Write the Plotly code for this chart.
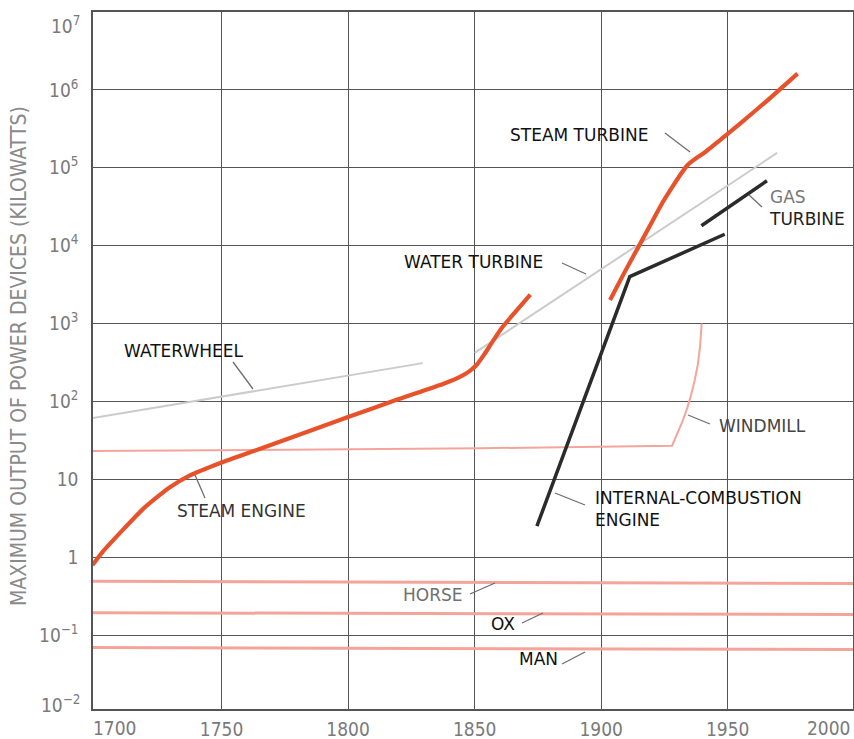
import plotly.graph_objects as go

# ---------------- data: year vs. maximum output (kilowatts) ----------------
steam_engine_year = [1699, 1703, 1711, 1719, 1724.5, 1729.6, 1737.5, 1749.5, 1765, 1800, 1820, 1838,
                     1844, 1848, 1851, 1854, 1857, 1861, 1866, 1872]
steam_engine_kw = [0.79, 1.17, 2.24, 4.17, 5.9, 7.9, 11.2, 16.2, 24.5, 63, 107, 170,
                   205, 245, 300, 410, 580, 900, 1400, 2350]

steam_turbine_year = [1903.5, 1909, 1915, 1920, 1924.3, 1928, 1931, 1934, 1937, 1941, 1946, 1955, 1965.5, 1977.6]
steam_turbine_kw = [2000, 4400, 10000, 20000, 36000, 56000, 79000, 107000, 129000, 158000, 214000,
                    372000, 724000, 1620000]

water_turbine_year = [1850, 1969.5]
water_turbine_kw = [420, 155000]

waterwheel_year = [1699, 1829.5]
waterwheel_kw = [61, 310]

windmill_year = [1699, 1852, 1928, 1930, 1932, 1934, 1935.5, 1937, 1938.2, 1939.1, 1939.7]
windmill_kw = [23, 25, 27, 38, 54, 82, 120, 190, 300, 520, 1000]

ic_engine_year = [1874.6, 1911.3, 1948.8]
ic_engine_kw = [2.5, 4000, 14000]

gas_turbine_year = [1939.6, 1965.5]
gas_turbine_kw = [18000, 68000]

animal_year = [1699, 2000]
horse_kw = [0.49, 0.46]
ox_kw = [0.193, 0.184]
man_kw = [0.069, 0.065]

x_tick_years = [1700, 1750, 1800, 1850, 1900, 1950, 2000]
y_tick_vals = [1e-2, 1e-1, 1, 10, 1e2, 1e3, 1e4, 1e5, 1e6, 1e7]
y_tick_text = ["10<sup>\u22122</sup>", "10<sup>\u22121</sup>", "1", "10", "10<sup>2</sup>",
               "10<sup>3</sup>", "10<sup>4</sup>", "10<sup>5</sup>", "10<sup>6</sup>", "10<sup>7</sup>"]

# ---------------- styling ----------------
W, H = 854, 739
ML, MR, MT, MB = 93, 1, 12, 30
PW, PH = W - ML - MR, H - MT - MB

STEAM = "#E8522B"
PALE_RED = "#F4A59B"
GREY_LINE = "#CBCBCB"
DARK = "#2B2B2B"
GRID = "#555555"
TICK_FONT = dict(family="Liberation Sans Narrow, DejaVu Sans Condensed, Arial Narrow, sans-serif",
                 size=19, color="#7A7A7A")
LABEL_FONT = "DejaVu Sans, Verdana, sans-serif"


def px(x):
    return (x - ML) / PW


def py(y):
    return (H - MB - y) / PH


fig = go.Figure()


def add_line(xs, ys, color, width, shape="linear", smoothing=None):
    line = dict(color=color, width=width, shape=shape)
    if smoothing is not None:
        line["smoothing"] = smoothing
    fig.add_trace(go.Scatter(x=xs, y=ys, mode="lines", line=line, hoverinfo="skip"))


# pale lines first so the heavier curves sit on top
add_line(animal_year, horse_kw, PALE_RED, 3)
add_line(animal_year, ox_kw, PALE_RED, 3)
add_line(animal_year, man_kw, PALE_RED, 3)
add_line(windmill_year, windmill_kw, PALE_RED, 2)
add_line(waterwheel_year, waterwheel_kw, GREY_LINE, 2)
add_line(water_turbine_year, water_turbine_kw, GREY_LINE, 2)
add_line(steam_engine_year, steam_engine_kw, STEAM, 4.2, shape="spline", smoothing=0.5)
add_line(steam_turbine_year, steam_turbine_kw, STEAM, 4.2, shape="spline", smoothing=0.5)
add_line(ic_engine_year, ic_engine_kw, DARK, 3.5)
add_line(gas_turbine_year, gas_turbine_kw, DARK, 3.5)

axis_common = dict(showgrid=True, gridcolor=GRID, gridwidth=1.2, showline=True, linecolor=GRID,
                   linewidth=1.5, mirror=True, ticks="", zeroline=False, tickfont=TICK_FONT,
                   automargin=False)

fig.update_xaxes(range=[1699.2, 1999.5], tickvals=x_tick_years[1:-1],
                 ticktext=[str(v) for v in x_tick_years[1:-1]], ticklabelstandoff=2, **axis_common)
fig.update_yaxes(type="log", range=[-1.95, 7], tickvals=y_tick_vals[1:-1],
                 ticktext=y_tick_text[1:-1], ticklabelstandoff=9, **axis_common)

annotations = []

# end tick labels are nudged inside the frame
annotations.append(dict(x=px(ML - 2), y=py(728), xref="paper", yref="paper", text=str(x_tick_years[0]),
                        xanchor="left", yanchor="middle", showarrow=False, font=TICK_FONT))
annotations.append(dict(x=px(W - MR), y=py(728), xref="paper", yref="paper", text=str(x_tick_years[-1]),
                        xanchor="right", yanchor="middle", showarrow=False, font=TICK_FONT))
annotations.append(dict(x=px(82), y=py(25), xref="paper", yref="paper", text=y_tick_text[-1],
                        xanchor="right", yanchor="middle", showarrow=False, font=TICK_FONT))
annotations.append(dict(x=px(82), y=py(704), xref="paper", yref="paper", text=y_tick_text[0],
                        xanchor="right", yanchor="middle", showarrow=False, font=TICK_FONT))

# vertical axis title
annotations.append(dict(x=px(19), y=py(356), xref="paper", yref="paper",
                        text="MAXIMUM OUTPUT OF POWER DEVICES (KILOWATTS)", textangle=-90,
                        xanchor="center", yanchor="middle", showarrow=False,
                        font=dict(family=TICK_FONT["family"], size=21, color="#8A8A8A")))

# series labels: (text, left x, centre y, colour)
labels = [
    ("WATERWHEEL", 122, 351, "#111111"),
    ("STEAM ENGINE", 175, 511, "#333333"),
    ("STEAM TURBINE", 508, 135, "#111111"),
    ("WATER TURBINE", 402, 262, "#111111"),
    ("<span style='color:#777777'>GAS</span><br>TURBINE", 767, 208, "#222222"),
    ("WINDMILL", 717, 426, "#444444"),
    ("INTERNAL-COMBUSTION<br>ENGINE", 593, 509, "#111111"),
    ("HORSE", 401, 595, "#707070"),
    ("OX", 489, 624, "#111111"),
    ("MAN", 517, 659, "#111111"),
]
for text, lx, cy, color in labels:
    annotations.append(dict(x=px(lx), y=py(cy), xref="paper", yref="paper", text=text,
                            xanchor="left", yanchor="middle", align="left", showarrow=False,
                            font=dict(family=LABEL_FONT, size=17, color=color)))

# leader lines from labels to curves
leaders = [
    (233, 362, 253, 389),
    (195, 475, 205, 498),
    (665, 133, 690, 152),
    (562, 263, 586, 274),
    (749, 195, 762, 207),
    (688, 415, 710, 424),
    (555, 493, 585, 505),
    (470, 594, 495, 583),
    (522, 623, 543, 613),
    (562, 664, 585, 652),
]
shapes = [dict(type="line", xref="paper", yref="paper", x0=px(a), y0=py(b), x1=px(c), y1=py(d),
               line=dict(color="#6E6E6E", width=1.3)) for a, b, c, d in leaders]

fig.update_layout(width=W, height=H, margin=dict(l=ML, r=MR, t=MT, b=MB),
                  plot_bgcolor="white", paper_bgcolor="white", showlegend=False,
                  annotations=annotations, shapes=shapes)

fig.write_html("out.html")
